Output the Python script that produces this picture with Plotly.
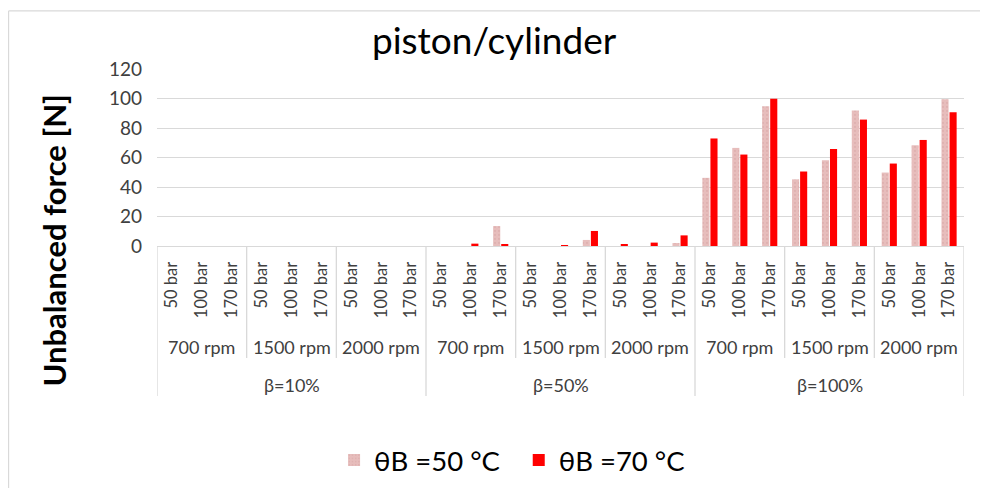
import plotly.graph_objects as go

# category levels (outer -> inner)
beta_labels = ["β=10%", "β=50%", "β=100%"]
rpm_labels = ["700 rpm", "1500 rpm", "2000 rpm"]
pressure_labels = ["50 bar", "100 bar", "170 bar"]

# unbalanced force [N], order: beta / rpm / pressure
force_50C = [0, 0, 0, 0, 0, 0, 0, 0, 0,
             0, 0, 13.5, 0, 0, 4.1, 0, 0, 2.0,
             46.2, 66.5, 94.8, 45.2, 58.1, 91.9, 49.8, 68.3, 99.5]
force_70C = [0, 0, 0, 0, 0, 0, 0, 0, 0,
             0, 1.6, 1.1, 0, 0.5, 10.2, 0.9, 2.3, 7.2,
             72.9, 62.0, 99.8, 50.5, 65.8, 85.7, 55.9, 71.9, 90.7]

FONT = "Lato"
GRID = "#d9d9d9"
TXT = "#404040"
PLOT_H = 177  # px height of the plotting area

tick_text = [p for b in beta_labels for r in rpm_labels for p in pressure_labels]
xs = list(range(len(tick_text)))

fig = go.Figure()
fig.add_trace(go.Bar(
    x=xs, y=force_50C, name="θB =50 °C\u2002",
    marker=dict(color="#e4b7b6", line_width=0,
                pattern=dict(shape=".", fgcolor="#d5a5a4", bgcolor="#e7bdbc",
                             size=4, solidity=0.25)),
))
fig.add_trace(go.Bar(
    x=xs, y=force_70C, name="θB =70 °C",
    marker=dict(color="#ff0000", line_width=0),
))

# multi-level category labels and separators (Excel style)
n_p = len(pressure_labels)
n_r = len(rpm_labels)
annotations = []
shapes = []


def sep(xpos, depth):
    return dict(type="line", xref="x", yref="paper", x0=xpos, x1=xpos,
                y0=0, y1=-depth / PLOT_H, line=dict(color=GRID, width=1.3))


for bi, b in enumerate(beta_labels):
    start = bi * n_r * n_p
    annotations.append(dict(x=start + (n_r * n_p - 1) / 2, y=0, xref="x", yref="paper",
                            yshift=-139, yanchor="middle", text=b, showarrow=False,
                            font=dict(family=FONT, size=18, color=TXT)))
    for ri, r in enumerate(rpm_labels):
        s = start + ri * n_p
        annotations.append(dict(x=s + (n_p - 1) / 2, y=0, xref="x", yref="paper",
                                yshift=-101, yanchor="middle", text=r, showarrow=False,
                                font=dict(family=FONT, size=18, color=TXT)))
        if ri > 0:
            shapes.append(sep(s - 0.5, 112))
    shapes.append(sep(start - 0.5, 150))
shapes.append(sep(len(xs) - 0.5, 150))

annotations.append(dict(x=0, y=0.5, xref="paper", yref="paper", xshift=-104, yshift=-83,
                        text="<b>Unbalanced force [N]</b>", textangle=-90,
                        showarrow=False, xanchor="center", yanchor="middle",
                        font=dict(family=FONT, size=31, color="#000000")))

# outer chart border (top and left visible)
shapes.append(dict(type="line", xref="paper", yref="paper", x0=-0.184, x1=1.05,
                   y0=1.328, y1=1.328, line=dict(color=GRID, width=1.3)))
shapes.append(dict(type="line", xref="paper", yref="paper", x0=-0.184, x1=-0.184,
                   y0=1.328, y1=-1.42, line=dict(color=GRID, width=1.3)))

# page body has an 8px margin, so the figure is 980x480 drawn at (8, 8)
fig.update_layout(
    width=980, height=480,
    margin=dict(l=149, r=24, t=61, b=242, autoexpand=False),
    paper_bgcolor="white", plot_bgcolor="white",
    title=dict(text="piston/cylinder", x=0.496, xref="container", xanchor="center",
               y=0.931, yanchor="middle",
               font=dict(family=FONT, size=37, color="#000000")),
    barmode="group", bargap=0.46, bargroupgap=0.12,
    font=dict(family=FONT, size=18, color=TXT),
    showlegend=True,
    legend=dict(orientation="h", x=0.44, xanchor="center",
                yref="container", y=0.058, yanchor="middle",
                font=dict(family=FONT, size=27.5, color="#000000"),
                itemwidth=30, traceorder="normal"),
    annotations=annotations, shapes=shapes,
)
fig.update_xaxes(range=[-0.5, len(xs) - 0.5], tickvals=xs, ticktext=tick_text,
                 tickangle=-90, showgrid=False, showline=True, linecolor=GRID,
                 linewidth=1.3, ticks="", ticklabelstandoff=8,
                 tickfont=dict(family=FONT, size=16.5, color=TXT))
fig.update_yaxes(range=[0, 120], dtick=20, showgrid=True, gridcolor=GRID,
                 gridwidth=1.3, zeroline=False, showline=False,
                 ticklabelstandoff=14,
                 tickfont=dict(family=FONT, size=19, color=TXT))

fig.write_html("out.html")
